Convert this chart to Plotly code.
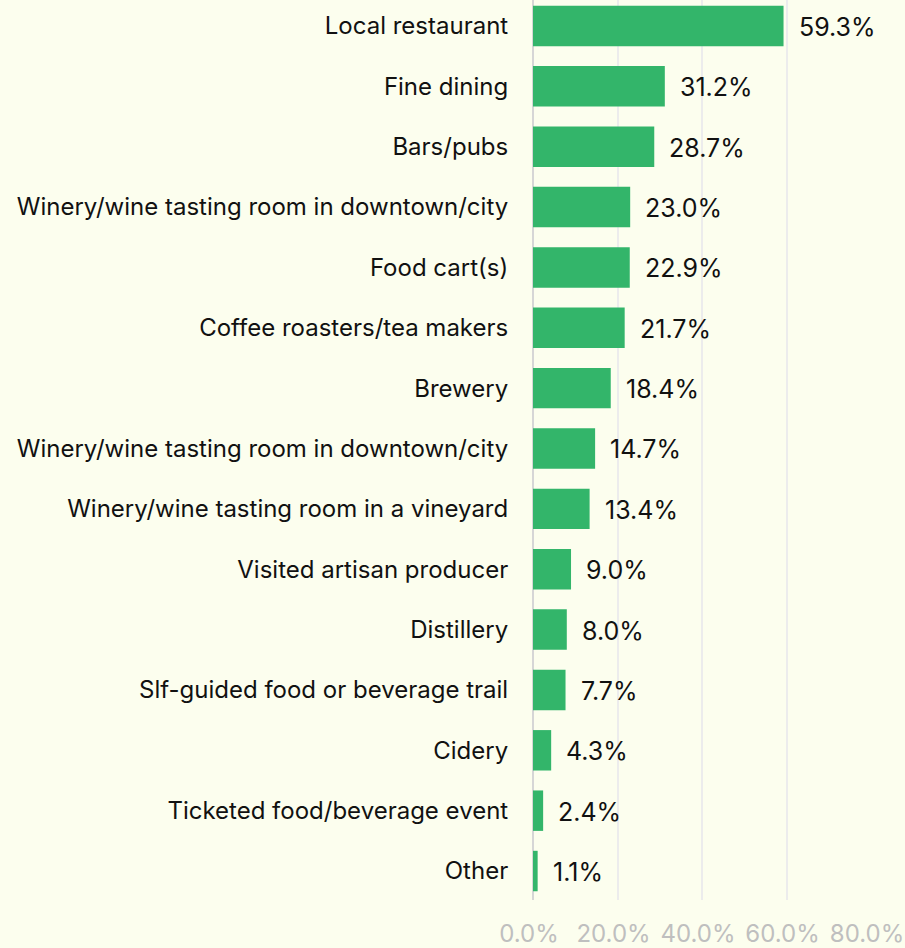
import plotly.graph_objects as go

categories = [
    "Local restaurant",
    "Fine dining",
    "Bars/pubs",
    "Winery/wine tasting room in downtown/city",
    "Food cart(s)",
    "Coffee roasters/tea makers",
    "Brewery",
    "Winery/wine tasting room in downtown/city",
    "Winery/wine tasting room in a vineyard",
    "Visited artisan producer",
    "Distillery",
    "Slf-guided food or beverage trail",
    "Cidery",
    "Ticketed food/beverage event",
    "Other",
]
values = [59.3, 31.2, 28.7, 23.0, 22.9, 21.7, 18.4, 14.7, 13.4, 9.0, 8.0, 7.7, 4.3, 2.4, 1.1]
tick_vals = [0, 20, 40, 60, 80]
tick_text = ["0.0%", "20.0%", "40.0%", "60.0%", "80.0%"]

BG = "#fcfeee"
FONT = "Inter"

positions = list(range(len(categories)))

fig = go.Figure()
fig.add_trace(go.Bar(
    x=values,
    y=positions,
    orientation="h",
    marker=dict(color="#33b56a", line=dict(width=0)),
    hoverinfo="skip",
))

for p, v in zip(positions, values):
    fig.add_annotation(
        x=v, y=p, text=f"{v:.1f}%", showarrow=False,
        xanchor="left", xshift=13, yshift=-1,
        font=dict(family=FONT, size=25, color="#111111"),
    )

fig.update_layout(
    width=905, height=948,
    margin=dict(l=533, r=34, t=0, b=48),
    paper_bgcolor=BG, plot_bgcolor=BG,
    bargap=0.33,
    showlegend=False,
    font=dict(family=FONT, size=24, color="#111111"),
)
fig.update_xaxes(
    range=[0, 80], tickvals=tick_vals, ticktext=tick_text,
    showgrid=True, gridcolor="#ececec", gridwidth=1.5,
    zeroline=True, zerolinecolor="#d6d6d6", zerolinewidth=2,
    tickfont=dict(family=FONT, size=24, color="#bfbfbf"),
    ticklabeloverflow="allow", automargin=False, ticklabelshift=-4,
    ticks="outside", ticklen=12, tickcolor="rgba(0,0,0,0)",
    showline=False, fixedrange=True,
)
fig.update_yaxes(
    tickmode="array", tickvals=positions, ticktext=categories,
    range=[14.48, -0.43], automargin=False,
    ticks="outside", ticklen=19, tickcolor="rgba(0,0,0,0)",
    tickfont=dict(family=FONT, size=24, color="#111111"),
    showgrid=False, showline=False, zeroline=False, fixedrange=True,
)

fig.write_html(
    "out.html",
    config={"displayModeBar": False},
    post_script="document.body.style.margin='0';document.body.style.background='" + BG + "';",
)
